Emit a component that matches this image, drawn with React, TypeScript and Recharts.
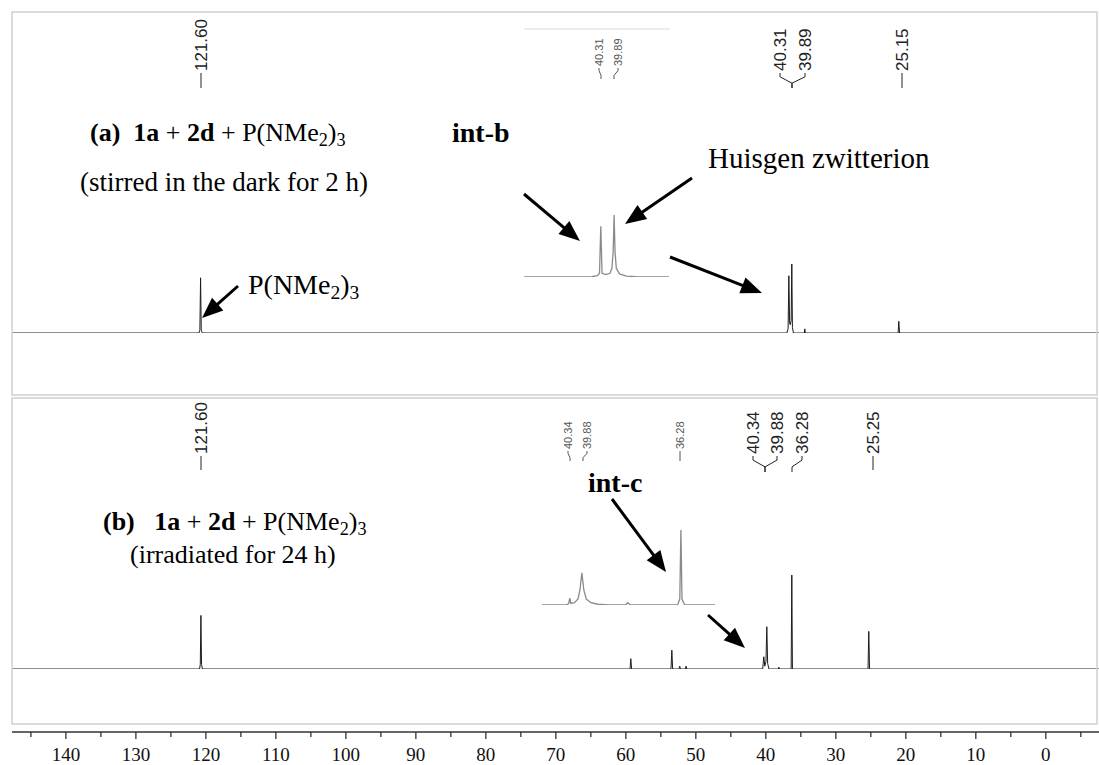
import React from "react";
import { LineChart, Line, XAxis, YAxis } from "recharts";

// printed ppm axis (decreasing to the right)
const axisMin = -7.6;
const axisMax = 147.7;
const axisMajor = [140, 130, 120, 110, 100, 90, 80, 70, 60, 50, 40, 30, 20, 10, 0];
const axisMinor = [145, 135, 125, 115, 105, 95, 85, 75, 65, 55, 45, 35, 25, 15, 5, -5];

// spectrum (a): [shift on printed axis, intensity % of tallest line]
const traceA: [number, number][] = [
  [147.7, 0], [121.0, 0], [120.86, 4], [120.76, 80], [120.66, 4], [120.5, 0],
  [37.0, 0], [36.82, 6], [36.71, 83], [36.6, 14], [36.5, 12], [36.38, 18],
  [36.29, 100], [36.2, 8], [36.05, 0],
  [34.5, 0], [34.43, 6], [34.36, 0],
  [21.1, 0], [21.0, 17], [20.9, 0], [-7.6, 0]
];

// spectrum (b)
const traceB: [number, number][] = [
  [147.7, 0], [120.9, 0], [120.8, 5], [120.71, 57], [120.62, 5], [120.5, 0],
  [59.4, 0], [59.29, 11], [59.18, 0],
  [53.55, 0], [53.43, 20], [53.31, 0],
  [52.4, 0], [52.3, 3], [52.2, 0], [51.5, 0], [51.4, 3], [51.3, 0],
  [40.45, 0], [40.29, 13], [40.15, 3], [39.98, 8], [39.86, 45], [39.74, 6], [39.55, 0],
  [38.2, 0], [38.14, 2], [38.08, 0],
  [36.38, 0], [36.29, 100], [36.2, 0],
  [25.4, 0], [25.29, 40], [25.18, 0], [-7.6, 0]
];

// expansions (insets), own ppm scale
const insetADomain: [number, number] = [38.16, 42.73];
const insetA: [number, number][] = [
  [42.73, 0], [40.6, 0.5], [40.42, 2], [40.35, 6], [40.31, 82], [40.27, 6],
  [40.15, 4], [40.02, 6], [39.96, 14], [39.92, 40], [39.89, 100], [39.86, 40],
  [39.82, 14], [39.72, 5], [39.5, 1.5], [39.2, 0.5], [38.16, 0]
];
const insetBDomain: [number, number] = [35.04, 41.33];
const insetB: [number, number][] = [
  [41.33, 0], [40.45, 0], [40.36, 2], [40.32, 9], [40.28, 2], [40.15, 3],
  [40.02, 8], [39.95, 20], [39.88, 43], [39.81, 20], [39.72, 8], [39.55, 3],
  [39.3, 1], [38.9, 0], [38.3, 0], [38.21, 3], [38.12, 0],
  [36.4, 0.5], [36.32, 8], [36.28, 100], [36.24, 8], [36.15, 0.5], [35.04, 0]
];

// peak labels
const labelsA = ["121.60", "40.31", "39.89", "25.15"];
const labelsB = ["121.60", "40.34", "39.88", "36.28", "25.25"];
const labelsInsetA = ["40.31", "39.89"];
const labelsInsetB = ["40.34", "39.88", "36.28"];

const SERIF = "'Liberation Serif', 'Times New Roman', serif";
const SANS = "'Liberation Sans', Arial, sans-serif";

const toRows = (d: [number, number][]) => d.map(([ppm, i]) => ({ ppm, i }));

function Trace({ data, domain, left, top, width, height, mTop, mBottom, color, sw }: any) {
  return (
    <div style={{ position: "absolute", left, top }}>
      <LineChart width={width} height={height} data={toRows(data)}
        margin={{ top: mTop, right: 0, bottom: mBottom, left: 0 }}>
        <XAxis hide type="number" dataKey="ppm" domain={domain} reversed allowDataOverflow />
        <YAxis hide domain={[0, 100]} allowDataOverflow />
        <Line type="linear" dataKey="i" stroke={color} strokeWidth={sw} dot={false}
          isAnimationActive={false} />
      </LineChart>
    </div>
  );
}

function AxisTick({ x, y, payload }: any) {
  const major = payload.value % 10 === 0;
  return (
    <g>
      <line x1={x} x2={x} y1={y} y2={y + (major ? 7 : 5)} stroke="#333" strokeWidth={1.3} />
      {major && (
        <text x={x} y={y + 29} textAnchor="middle" fontFamily={SERIF} fontSize={19} fill="#111">
          {payload.value}
        </text>
      )}
    </g>
  );
}

// vertical shift label with its connector to the peak
function ShiftLabel({ text, x, px, foot, size, color, len }: any) {
  const y0 = foot - len;
  const path = x === px
    ? `M${x},${y0 + 1} L${x},${foot}`
    : `M${x},${y0 + 1} L${x},${y0 + len * 0.3} L${px},${y0 + len * 0.7} L${px},${foot}`;
  return (
    <g>
      <text transform={`translate(${x},${y0 - 1}) rotate(-90)`} dominantBaseline="central"
        fontFamily={SANS} fontSize={size} fill={color}>{text}</text>
      <path d={path} fill="none" stroke={color} strokeWidth={1} />
    </g>
  );
}

function Arrow({ x1, y1, x2, y2 }: any) {
  const len = Math.hypot(x2 - x1, y2 - y1);
  const ux = (x2 - x1) / len;
  const uy = (y2 - y1) / len;
  const head = 21;
  const half = 8.5;
  const bx = x2 - ux * head;
  const by = y2 - uy * head;
  return (
    <g>
      <line x1={x1} y1={y1} x2={bx + ux * 2} y2={by + uy * 2} stroke="#000" strokeWidth={3} />
      <polygon fill="#000"
        points={`${x2},${y2} ${bx - uy * half},${by + ux * half} ${bx + uy * half},${by - ux * half}`} />
    </g>
  );
}

const sub = { fontSize: "0.7em", verticalAlign: "-0.28em", lineHeight: 0 };

function Note({ left, top, size, bold, children }: any) {
  return (
    <div style={{ position: "absolute", left, top, fontFamily: SERIF, fontSize: size,
      fontWeight: bold ? 700 : 400, whiteSpace: "pre", lineHeight: 1, color: "#000" }}>
      {children}
    </div>
  );
}

export default function App() {
  return (
    <div style={{ position: "relative", width: 1099, height: 765, background: "#fff", overflow: "hidden" }}>
      <style>{"body{margin:0}"}</style>

      {/* main spectra */}
      <Trace data={traceA} domain={[axisMin, axisMax]} left={12} top={12} width={1087} height={383}
        mTop={252} mBottom={62} color="#1c1c1c" sw={1} />
      <Trace data={traceB} domain={[axisMin, axisMax]} left={12} top={398} width={1087} height={326}
        mTop={177} mBottom={55} color="#1c1c1c" sw={1} />

      {/* expansions */}
      <Trace data={insetA} domain={insetADomain} left={524} top={200} width={145} height={80}
        mTop={15} mBottom={3} color="#8a8a8a" sw={1.3} />
      <Trace data={insetB} domain={insetBDomain} left={542} top={520} width={173} height={90}
        mTop={10} mBottom={5} color="#8a8a8a" sw={1.3} />

      {/* ppm axis */}
      <div style={{ position: "absolute", left: 12, top: 700 }}>
        <LineChart width={1087} height={65} data={[{ ppm: axisMin, v: 0 }, { ppm: axisMax, v: 0 }]}
          margin={{ top: 0, right: 0, bottom: 0, left: 0 }}>
          <XAxis type="number" dataKey="ppm" domain={[axisMin, axisMax]} reversed
            ticks={[...axisMinor, ...axisMajor].sort((a, b) => b - a)} interval={0}
            tickSize={0} tickMargin={0} tickLine={false} height={33}
            axisLine={{ stroke: "#333", strokeWidth: 1.5 }} tick={<AxisTick />} />
          <YAxis hide />
          <Line dataKey="v" stroke="none" dot={false} isAnimationActive={false} />
        </LineChart>
      </div>

      {/* frames, labels, arrows */}
      <svg width={1099} height={765} style={{ position: "absolute", left: 0, top: 0, pointerEvents: "none" }}>
        <rect x={12} y={12} width={1085} height={383} fill="none" stroke="#cfcfcf" strokeWidth={1.5} />
        <rect x={12} y={398} width={1085} height={326} fill="none" stroke="#cfcfcf" strokeWidth={1.5} />
        <line x1={524} x2={670} y1={29} y2={29} stroke="#d9d9d9" strokeWidth={1.2} />

        <ShiftLabel text={labelsA[0]} x={201} px={201} foot={88} len={16} size={17} color="#222" />
        <ShiftLabel text={labelsA[1]} x={780} px={792} foot={88} len={16} size={17} color="#222" />
        <ShiftLabel text={labelsA[2]} x={805} px={792} foot={88} len={16} size={17} color="#222" />
        <ShiftLabel text={labelsA[3]} x={902} px={902} foot={88} len={16} size={17} color="#222" />

        <ShiftLabel text={labelsInsetA[0]} x={599} px={601} foot={79} len={12} size={11} color="#555" />
        <ShiftLabel text={labelsInsetA[1]} x={618} px={614} foot={79} len={12} size={11} color="#555" />

        <ShiftLabel text={labelsB[0]} x={201} px={201} foot={470} len={15} size={17} color="#222" />
        <ShiftLabel text={labelsB[1]} x={753} px={765} foot={472} len={17} size={17} color="#222" />
        <ShiftLabel text={labelsB[2]} x={777} px={765} foot={472} len={17} size={17} color="#222" />
        <ShiftLabel text={labelsB[3]} x={802} px={792} foot={472} len={17} size={17} color="#222" />
        <ShiftLabel text={labelsB[4]} x={873} px={873} foot={470} len={15} size={17} color="#222" />

        <ShiftLabel text={labelsInsetB[0]} x={568} px={570} foot={461} len={11} size={11} color="#555" />
        <ShiftLabel text={labelsInsetB[1]} x={587} px={583} foot={461} len={11} size={11} color="#555" />
        <ShiftLabel text={labelsInsetB[2]} x={680} px={680} foot={461} len={11} size={11} color="#555" />

        <Arrow x1={524} y1={194} x2={580} y2={241} />
        <Arrow x1={692} y1={178} x2={625} y2={224} />
        <Arrow x1={670} y1={257} x2={762} y2={293} />
        <Arrow x1={238} y1={286} x2={202} y2={318} />
        <Arrow x1={612} y1={499} x2={666} y2={572} />
        <Arrow x1={708} y1={615} x2={745} y2={648} />
      </svg>

      <Note left={90} top={120} size={26}>
        <b>(a)</b>{"  "}<b>1a</b> + <b>2d</b> + P(NMe<span style={sub}>2</span>)<span style={sub}>3</span>
      </Note>
      <Note left={80} top={169} size={27}>(stirred in the dark for 2 h)</Note>
      <Note left={452} top={119} size={28} bold>int-b</Note>
      <Note left={708} top={144} size={29}>Huisgen zwitterion</Note>
      <Note left={248} top={271} size={28}>
        P(NMe<span style={sub}>2</span>)<span style={sub}>3</span>
      </Note>

      <Note left={103} top={509} size={26}>
        <b>(b)</b>{"   "}<b>1a</b> + <b>2d</b> + P(NMe<span style={sub}>2</span>)<span style={sub}>3</span>
      </Note>
      <Note left={130} top={542} size={26}>(irradiated for 24 h)</Note>
      <Note left={588} top={469} size={28} bold>int-c</Note>
    </div>
  );
}
